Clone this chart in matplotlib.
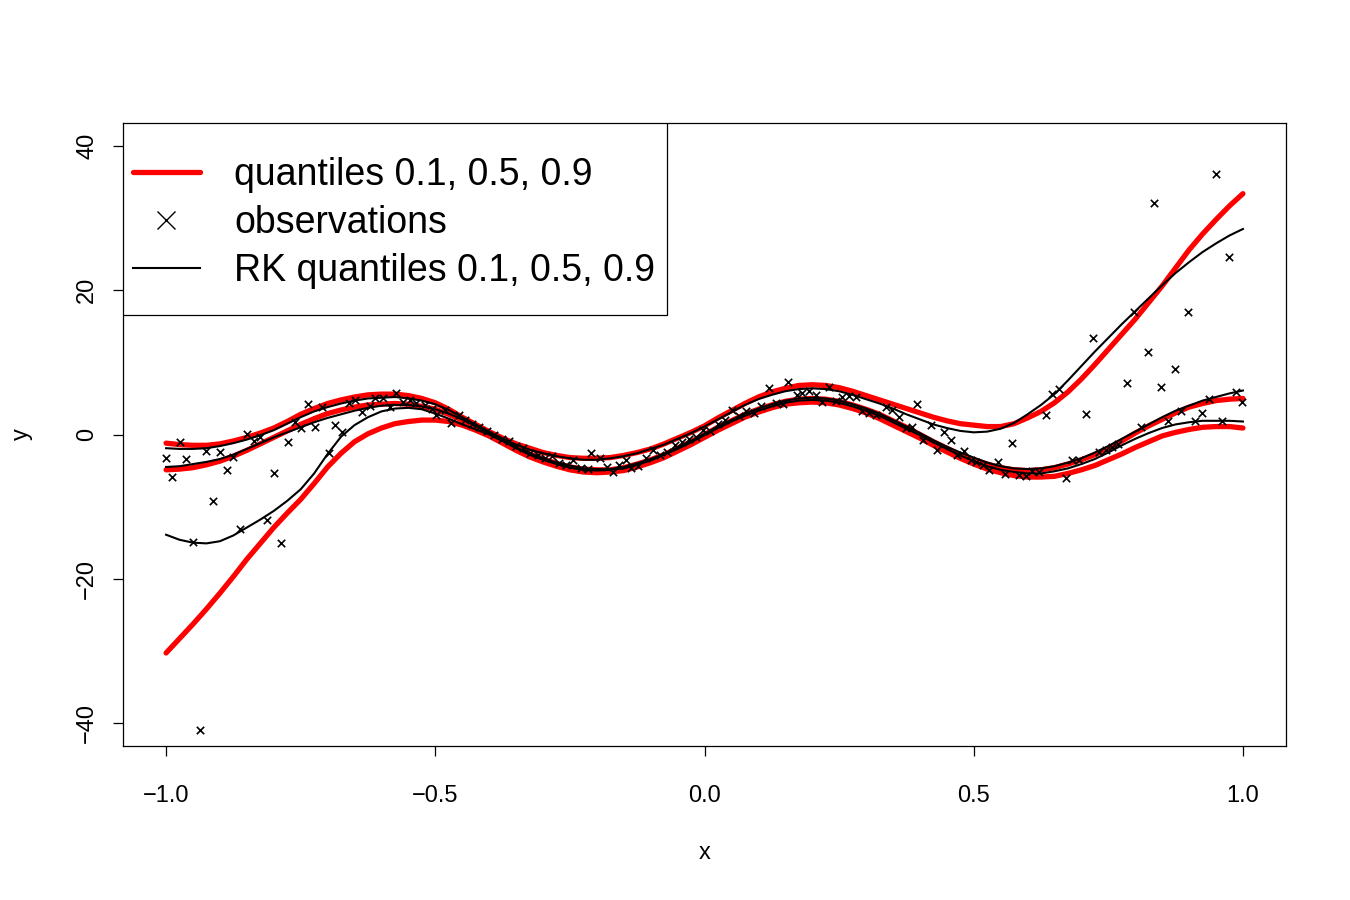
import numpy as np
import matplotlib
matplotlib.use("Agg")
import matplotlib.pyplot as plt
from matplotlib.patches import Rectangle

plt.rcParams['font.family'] = ['Liberation Sans', 'DejaVu Sans']

# grid on which the quantile curves were read
grid_x = [-1.000, -0.975, -0.950, -0.925, -0.900, -0.875, -0.850, -0.825, -0.800, -0.775,
          -0.750, -0.725, -0.700, -0.675, -0.650, -0.625, -0.600, -0.575, -0.550, -0.525,
          -0.500, -0.475, -0.450, -0.425, -0.400, -0.375, -0.350, -0.325, -0.300, -0.275,
          -0.250, -0.225, -0.200, -0.175, -0.150, -0.125, -0.100, -0.075, -0.050, -0.025,
          0.000, 0.025, 0.050, 0.075, 0.100, 0.125, 0.150, 0.175, 0.200, 0.225,
          0.250, 0.275, 0.300, 0.325, 0.350, 0.375, 0.400, 0.425, 0.450, 0.475,
          0.500, 0.525, 0.550, 0.575, 0.600, 0.625, 0.650, 0.675, 0.700, 0.725,
          0.750, 0.775, 0.800, 0.825, 0.850, 0.875, 0.900, 0.925, 0.950, 0.975, 1.000]

# true quantiles (red)
q90 = [-1.2, -1.4, -1.5, -1.5, -1.3, -0.9, -0.4, 0.2, 0.9, 1.8,
       2.8, 3.6, 4.3, 4.8, 5.2, 5.5, 5.6, 5.6, 5.4, 5.0,
       4.4, 3.5, 2.4, 1.4, 0.4, -0.5, -1.3, -1.9, -2.5, -2.9,
       -3.2, -3.3, -3.3, -3.2, -2.9, -2.5, -2.0, -1.3, -0.5, 0.3,
       1.2, 2.3, 3.3, 4.3, 5.2, 5.9, 6.4, 6.8, 6.9, 6.8,
       6.5, 6.0, 5.4, 4.8, 4.2, 3.6, 3.0, 2.4, 1.9, 1.5,
       1.3, 1.1, 1.1, 1.5, 2.3, 3.2, 4.4, 5.9, 7.7, 9.7,
       11.8, 13.9, 16.0, 18.3, 20.6, 23.1, 25.6, 27.8, 29.8, 31.7, 33.4]
q50 = [-4.9, -4.8, -4.6, -4.2, -3.7, -3.0, -2.2, -1.3, -0.4, 0.5,
       1.4, 2.2, 2.9, 3.4, 3.8, 4.1, 4.2, 4.3, 4.2, 3.9,
       3.5, 2.8, 2.0, 1.0, 0.1, -0.9, -1.8, -2.7, -3.4, -4.0,
       -4.5, -4.8, -4.9, -4.9, -4.6, -4.1, -3.5, -2.8, -1.9, -1.0,
       0.0, 1.0, 1.9, 2.8, 3.5, 4.1, 4.6, 4.9, 5.0, 4.9,
       4.6, 4.1, 3.5, 2.8, 1.9, 1.0, 0.0, -1.0, -1.9, -2.8,
       -3.5, -4.1, -4.6, -4.9, -5.0, -4.9, -4.6, -4.1, -3.5, -2.8,
       -1.9, -0.9, 0.2, 1.2, 2.1, 3.0, 3.8, 4.3, 4.7, 4.9, 5.0]
q10 = [-30.3, -28.3, -26.3, -24.2, -22.0, -19.7, -17.3, -15.1, -12.9, -10.9,
       -9.0, -6.8, -4.5, -2.6, -1.0, 0.1, 0.9, 1.5, 1.8, 2.0,
       2.0, 1.8, 1.3, 0.6, -0.2, -1.2, -2.2, -3.1, -3.8, -4.4,
       -4.9, -5.2, -5.3, -5.2, -5.0, -4.5, -3.9, -3.2, -2.3, -1.4,
       -0.4, 0.6, 1.5, 2.4, 3.1, 3.7, 4.2, 4.4, 4.5, 4.4,
       4.1, 3.6, 3.0, 2.2, 1.3, 0.4, -0.5, -1.5, -2.4, -3.3,
       -4.1, -4.8, -5.3, -5.7, -5.9, -5.9, -5.8, -5.4, -4.9, -4.3,
       -3.5, -2.7, -1.8, -1.0, -0.2, 0.3, 0.7, 1.0, 1.1, 1.1, 0.9]

# RK estimated quantiles (black)
rk90 = [-1.9, -2.0, -2.0, -1.9, -1.6, -1.2, -0.7, -0.1, 0.6, 1.5,
        2.4, 3.2, 3.8, 4.3, 4.7, 5.0, 5.1, 5.2, 5.0, 4.7,
        4.2, 3.4, 2.4, 1.4, 0.4, -0.6, -1.4, -2.1, -2.6, -3.0,
        -3.3, -3.5, -3.5, -3.3, -3.0, -2.6, -2.0, -1.4, -0.6, 0.2,
        1.1, 2.1, 3.1, 4.1, 4.9, 5.5, 6.0, 6.3, 6.4, 6.3,
        6.0, 5.5, 4.9, 4.3, 3.6, 2.8, 2.1, 1.4, 0.9, 0.5,
        0.3, 0.4, 0.8, 1.6, 2.8, 4.1, 5.6, 7.5, 9.5, 11.5,
        13.4, 15.3, 17.1, 18.9, 20.7, 22.4, 23.9, 25.3, 26.5, 27.6, 28.5]
rk50 = [-4.5, -4.4, -4.1, -3.8, -3.4, -2.8, -2.0, -1.2, -0.4, 0.3,
        1.0, 1.7, 2.3, 2.8, 3.3, 3.7, 4.0, 4.1, 4.1, 3.9,
        3.5, 2.9, 2.1, 1.2, 0.2, -0.8, -1.8, -2.6, -3.3, -3.9,
        -4.3, -4.7, -4.8, -4.8, -4.5, -4.0, -3.4, -2.7, -1.8, -0.9,
        0.1, 1.1, 2.0, 2.9, 3.6, 4.2, 4.7, 5.0, 5.1, 5.0,
        4.7, 4.2, 3.6, 2.9, 2.0, 1.1, 0.2, -0.8, -1.7, -2.5,
        -3.2, -3.9, -4.4, -4.7, -4.8, -4.7, -4.4, -3.9, -3.3, -2.5,
        -1.6, -0.6, 0.4, 1.4, 2.4, 3.3, 4.0, 4.7, 5.2, 5.7, 6.1]
rk10 = [-13.9, -14.6, -15.0, -15.1, -14.8, -14.0, -12.9, -11.8, -10.6, -9.2,
        -7.6, -5.4, -2.7, -0.3, 1.3, 2.4, 3.2, 3.6, 3.7, 3.5,
        2.9, 2.2, 1.4, 0.7, 0.0, -0.9, -1.9, -2.8, -3.5, -4.1,
        -4.6, -4.9, -5.0, -4.9, -4.7, -4.2, -3.6, -2.8, -2.0, -1.1,
        -0.1, 0.9, 1.8, 2.6, 3.3, 3.9, 4.4, 4.7, 4.8, 4.7,
        4.4, 3.9, 3.3, 2.6, 1.7, 0.8, -0.1, -1.1, -2.0, -2.9,
        -3.7, -4.4, -4.9, -5.2, -5.4, -5.4, -5.1, -4.7, -4.1, -3.4,
        -2.5, -1.5, -0.6, 0.2, 0.9, 1.4, 1.7, 1.9, 1.9, 1.9, 1.8]

# observations
obs_x = [-1.000, -0.989, -0.974, -0.963, -0.950, -0.937, -0.926, -0.913, -0.900, -0.887,
         -0.876, -0.863, -0.850, -0.837, -0.826, -0.813, -0.800, -0.787, -0.774, -0.761,
         -0.750, -0.737, -0.724, -0.711, -0.698, -0.686, -0.673, -0.660, -0.649, -0.636,
         -0.621, -0.612, -0.597, -0.584, -0.573, -0.560, -0.547, -0.536, -0.519, -0.507,
         -0.499, -0.482, -0.470, -0.456, -0.444, -0.431, -0.418, -0.404, -0.391, -0.377,
         -0.364, -0.351, -0.337, -0.324, -0.310, -0.297, -0.284, -0.270, -0.257, -0.245,
         -0.230, -0.217, -0.210, -0.195, -0.182, -0.170, -0.158, -0.145, -0.136, -0.123,
         -0.109, -0.096, -0.082, -0.069, -0.055, -0.042, -0.029, -0.015, -0.002, 0.011,
         0.025, 0.038, 0.052, 0.065, 0.078, 0.092, 0.105, 0.119, 0.132, 0.145,
         0.156, 0.171, 0.182, 0.195, 0.208, 0.219, 0.232, 0.245, 0.256, 0.269,
         0.282, 0.293, 0.306, 0.319, 0.337, 0.349, 0.362, 0.374, 0.385, 0.395,
         0.405, 0.421, 0.432, 0.445, 0.458, 0.469, 0.482, 0.495, 0.504, 0.517,
         0.529, 0.545, 0.558, 0.571, 0.584, 0.597, 0.609, 0.621, 0.634, 0.646,
         0.659, 0.672, 0.683, 0.696, 0.709, 0.722, 0.733, 0.745, 0.757, 0.768,
         0.785, 0.798, 0.811, 0.824, 0.835, 0.848, 0.861, 0.874, 0.885, 0.898,
         0.911, 0.924, 0.937, 0.950, 0.961, 0.974, 0.987, 0.998]
obs_y = [-3.3, -5.9, -1.0, -3.4, -14.9, -41.0, -2.3, -9.2, -2.4, -4.9,
         -3.1, -13.1, 0.1, -0.9, -0.3, -11.9, -5.4, -15.1, -1.0, 1.7,
         0.9, 4.2, 1.0, 3.8, -2.6, 1.3, 0.3, 4.4, 4.8, 3.1,
         4.0, 5.0, 5.0, 3.8, 5.8, 4.5, 4.8, 4.4, 4.1, 3.5,
         2.7, 3.4, 1.6, 2.7, 2.0, 1.4, 1.0, 0.5, 0.0, -0.6,
         -0.9, -1.6, -1.9, -2.5, -2.9, -3.3, -3.0, -4.0, -4.2, -3.5,
         -4.6, -4.8, -2.6, -3.3, -4.5, -5.2, -4.2, -3.6, -4.6, -4.3,
         -3.2, -2.1, -2.8, -2.4, -1.5, -1.1, -0.6, -0.3, 0.6, 0.5,
         1.4, 2.0, 3.4, 2.5, 3.3, 3.0, 3.9, 6.4, 4.4, 4.2,
         7.3, 5.5, 5.7, 6.0, 5.5, 4.5, 6.6, 4.7, 5.2, 5.3,
         5.2, 3.3, 3.0, 2.7, 3.8, 3.4, 2.4, 0.9, 1.0, 4.2,
         -0.8, 1.3, -2.1, 0.3, -0.8, -2.8, -2.3, -3.5, -3.8, -4.2,
         -4.9, -3.8, -5.5, -1.2, -5.6, -5.8, -5.0, -5.2, 2.7, 5.6,
         6.3, -6.0, -3.5, -3.6, 2.8, 13.4, -2.4, -2.1, -1.7, -1.3,
         7.1, 17.0, 1.0, 11.4, 32.1, 6.6, 1.9, 9.1, 3.3, 17.0,
         1.9, 3.0, 4.9, 36.1, 1.9, 24.6, 5.9, 4.5]

x_ticks = [-1.0, -0.5, 0.0, 0.5, 1.0]
y_ticks = [-40, -20, 0, 20, 40]
legend_labels = ["quantiles 0.1, 0.5, 0.9", "observations", "RK quantiles 0.1, 0.5, 0.9"]

fig = plt.figure(figsize=(13.5, 9), dpi=100)
ax = fig.add_axes([123 / 1350, 1 - 746 / 900, (1286 - 123) / 1350, (746 - 123) / 900])

for q in (q10, q50, q90):
    ax.plot(grid_x, q, color='red', lw=3.8, solid_capstyle='round', zorder=2)
ax.scatter(obs_x, obs_y, marker='x', color='black', s=28, linewidths=1.2, zorder=3)
for q in (rk10, rk50, rk90):
    ax.plot(grid_x, q, color='black', lw=1.5, zorder=4)

ax.set_xlim(-1.08, 1.08)
ax.set_ylim(-43.2, 43.2)
ax.set_xticks(x_ticks)
ax.set_xticklabels(['\u22121.0', '\u22120.5', '0.0', '0.5', '1.0'])
ax.set_yticks(y_ticks)
ax.set_yticklabels(['\u221240', '\u221220', '0', '20', '40'], rotation=90, va='center')
ax.tick_params(axis='both', direction='out', length=7, width=0.9, labelsize=17)
ax.tick_params(axis='x', pad=21)
ax.tick_params(axis='y', pad=11)
for s in ax.spines.values():
    s.set_linewidth(0.9)

fig.text(705 / 1350, 1 - 853 / 900, 'x', fontsize=17, ha='center', va='center')
fig.text(22 / 1350, 1 - 434 / 900, 'y', fontsize=17, ha='center', va='center', rotation=90)

# legend drawn in axes fraction, anchored at the top-left corner
tr = ax.transAxes
ax.add_patch(Rectangle((0, 0.6918), 0.4678, 0.3082, transform=tr, fill=True,
                       facecolor='white', edgecolor='black', lw=0.9, zorder=5))
rows = [0.9213, 0.8443, 0.7672]
ax.plot([0.0086, 0.0662], [rows[0]] * 2, transform=tr, color='red', lw=3.8,
        solid_capstyle='round', zorder=6)
ax.plot([0.037], [rows[1]], transform=tr, marker='x', color='black', ms=13,
        mew=1.0, zorder=6)
ax.plot([0.0086, 0.0662], [rows[2]] * 2, transform=tr, color='black', lw=1.5, zorder=6)
for r, lab in zip(rows, legend_labels):
    ax.text(0.0954, r - 0.005, lab, transform=tr, fontsize=27, va='center', ha='left', zorder=6)

fig.savefig('out.png', dpi=100)
